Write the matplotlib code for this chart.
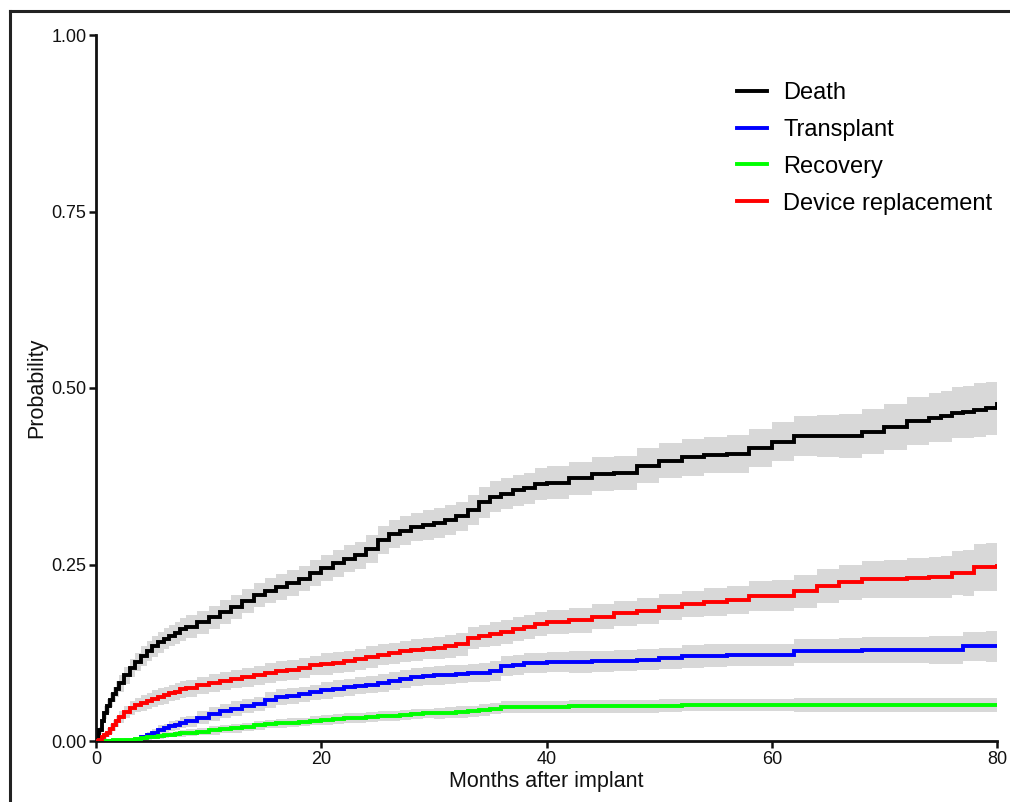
import matplotlib
matplotlib.use("Agg")
import matplotlib.pyplot as plt
from matplotlib.lines import Line2D
import numpy as np

plt.rcParams['font.family'] = ['Liberation Sans', 'DejaVu Sans']

# Months after implant (shared event grid)
months = [0, 0.25, 0.5, 0.75, 1, 1.25, 1.5, 1.75, 2, 2.5, 3, 3.5, 4, 4.5, 5,
          5.5, 6, 6.5, 7, 7.5, 8,
          9, 10, 11, 12, 13, 14, 15, 16, 17, 18, 19, 20,
          21, 22, 23, 24, 25, 26, 27, 28, 29, 30, 31, 32, 33, 34, 35, 36, 37,
          38, 39, 40,
          42, 44, 46, 48, 50, 52, 54, 56, 58, 60, 62, 64, 66, 68, 70, 72, 74,
          75, 76, 77, 78, 79, 80]

death = [0, 0.015, 0.028, 0.040, 0.050, 0.058, 0.066, 0.074, 0.082, 0.093,
         0.103, 0.112, 0.120, 0.127, 0.134, 0.140, 0.145, 0.149, 0.153, 0.158,
         0.162,
         0.168, 0.175, 0.183, 0.190, 0.198, 0.207, 0.213, 0.218, 0.224, 0.230,
         0.238, 0.245, 0.252, 0.258, 0.263, 0.272, 0.285, 0.293, 0.298, 0.303,
         0.306, 0.309, 0.313, 0.318, 0.327, 0.338, 0.346, 0.350, 0.355, 0.358,
         0.364, 0.366,
         0.372, 0.378, 0.380, 0.390, 0.397, 0.402, 0.405, 0.407, 0.415, 0.424,
         0.432, 0.432, 0.432, 0.438, 0.445, 0.453, 0.458,
         0.460, 0.465, 0.466, 0.469, 0.471, 0.478]
death_hw = [0, 0.005, 0.008, 0.009, 0.010, 0.010, 0.011, 0.011, 0.012, 0.012,
            0.013, 0.013, 0.014, 0.014, 0.015, 0.015, 0.015, 0.015, 0.015, 0.016,
            0.016,
            0.016, 0.016, 0.017, 0.017, 0.017, 0.017, 0.018, 0.018, 0.018, 0.018,
            0.019, 0.019, 0.019, 0.019, 0.019, 0.020, 0.020, 0.020, 0.020, 0.020,
            0.021, 0.021, 0.021, 0.021, 0.021, 0.022, 0.022, 0.022, 0.022, 0.022,
            0.023, 0.023,
            0.023, 0.024, 0.024, 0.025, 0.025, 0.026, 0.026, 0.027, 0.027, 0.028,
            0.029, 0.030, 0.031, 0.032, 0.033, 0.034, 0.035,
            0.036, 0.036, 0.037, 0.038, 0.038, 0.039]

transplant = [0, 0, 0, 0, 0, 0, 0, 0, 0, 0,
              0, 0.002, 0.006, 0.009, 0.012, 0.016, 0.018, 0.021, 0.023, 0.026,
              0.028,
              0.033, 0.038, 0.042, 0.046, 0.049, 0.053, 0.058, 0.062, 0.064, 0.066,
              0.069, 0.072, 0.074, 0.076, 0.078, 0.080, 0.082, 0.085, 0.088, 0.091,
              0.092, 0.093, 0.094, 0.095, 0.096, 0.097, 0.099, 0.106, 0.108, 0.110,
              0.111, 0.112,
              0.112, 0.113, 0.114, 0.115, 0.117, 0.120, 0.121, 0.122, 0.122, 0.122,
              0.127, 0.128, 0.128, 0.129, 0.129, 0.129, 0.129,
              0.129, 0.129, 0.134, 0.134, 0.134, 0.134]
transplant_hw = [0, 0, 0, 0, 0, 0, 0, 0, 0, 0,
                 0, 0.002, 0.003, 0.004, 0.005, 0.006, 0.006, 0.007, 0.007, 0.008,
                 0.008,
                 0.009, 0.010, 0.010, 0.010, 0.010, 0.010, 0.011, 0.011, 0.011, 0.011,
                 0.011, 0.012, 0.012, 0.012, 0.012, 0.012, 0.013, 0.013, 0.013, 0.013,
                 0.013, 0.013, 0.013, 0.013, 0.013, 0.013, 0.014, 0.014, 0.014, 0.014,
                 0.014, 0.014,
                 0.015, 0.015, 0.015, 0.015, 0.015, 0.016, 0.016, 0.016, 0.016, 0.016,
                 0.017, 0.017, 0.018, 0.018, 0.019, 0.019, 0.020,
                 0.020, 0.020, 0.021, 0.021, 0.022, 0.022]

recovery = [0, 0, 0, 0, 0, 0, 0.001, 0.001, 0.001, 0.002,
            0.002, 0.003, 0.004, 0.005, 0.006, 0.007, 0.008, 0.009, 0.010, 0.011,
            0.012,
            0.013, 0.015, 0.017, 0.018, 0.020, 0.022, 0.024, 0.025, 0.026, 0.027,
            0.029, 0.030, 0.031, 0.032, 0.033, 0.034, 0.035, 0.036, 0.037, 0.038,
            0.039, 0.039, 0.040, 0.041, 0.042, 0.044, 0.046, 0.048, 0.048, 0.048,
            0.048, 0.048,
            0.049, 0.049, 0.049, 0.049, 0.050, 0.051, 0.051, 0.051, 0.051, 0.051,
            0.051, 0.051, 0.051, 0.051, 0.051, 0.051, 0.051,
            0.051, 0.051, 0.051, 0.051, 0.051, 0.051]
recovery_hw = [0, 0, 0, 0, 0, 0, 0.001, 0.001, 0.001, 0.002,
               0.002, 0.002, 0.003, 0.003, 0.003, 0.004, 0.004, 0.004, 0.004, 0.005,
               0.005,
               0.005, 0.006, 0.006, 0.006, 0.006, 0.006, 0.006, 0.006, 0.006, 0.006,
               0.006, 0.007, 0.007, 0.007, 0.007, 0.007, 0.007, 0.007, 0.007, 0.007,
               0.007, 0.008, 0.008, 0.008, 0.008, 0.008, 0.008, 0.008, 0.008, 0.008,
               0.008, 0.008,
               0.009, 0.009, 0.009, 0.009, 0.009, 0.009, 0.009, 0.009, 0.009, 0.009,
               0.010, 0.010, 0.010, 0.010, 0.010, 0.010, 0.010,
               0.010, 0.010, 0.010, 0.010, 0.010, 0.010]

replacement = [0, 0.002, 0.005, 0.008, 0.012, 0.017, 0.022, 0.028, 0.034, 0.041,
               0.047, 0.051, 0.054, 0.057, 0.060, 0.063, 0.065, 0.068, 0.070, 0.073,
               0.075,
               0.079, 0.082, 0.085, 0.088, 0.090, 0.093, 0.096, 0.099, 0.101, 0.103,
               0.107, 0.109, 0.111, 0.113, 0.116, 0.119, 0.122, 0.124, 0.127, 0.129,
               0.131, 0.132, 0.134, 0.137, 0.146, 0.149, 0.152, 0.154, 0.158, 0.162,
               0.166, 0.169,
               0.171, 0.176, 0.181, 0.184, 0.190, 0.194, 0.197, 0.200, 0.205, 0.206,
               0.212, 0.219, 0.225, 0.229, 0.230, 0.231, 0.232,
               0.232, 0.238, 0.238, 0.246, 0.247, 0.248]
replacement_hw = [0, 0.002, 0.004, 0.005, 0.006, 0.007, 0.008, 0.008, 0.009, 0.009,
                  0.010, 0.010, 0.011, 0.011, 0.012, 0.012, 0.012, 0.012, 0.012, 0.012,
                  0.012,
                  0.012, 0.013, 0.013, 0.013, 0.013, 0.013, 0.014, 0.014, 0.014, 0.014,
                  0.014, 0.015, 0.015, 0.015, 0.015, 0.015, 0.015, 0.015, 0.015, 0.015,
                  0.015, 0.016, 0.016, 0.016, 0.016, 0.016, 0.017, 0.017, 0.017, 0.017,
                  0.017, 0.017,
                  0.018, 0.018, 0.018, 0.018, 0.018, 0.019, 0.020, 0.020, 0.021, 0.022,
                  0.023, 0.024, 0.025, 0.026, 0.027, 0.028, 0.029,
                  0.030, 0.031, 0.032, 0.033, 0.034, 0.035]

labels = ["Death", "Transplant", "Recovery", "Device replacement"]
colors = ["#000000", "#0000ff", "#00ff00", "#ff0000"]
series = [death, transplant, recovery, replacement]
halfwidths = [death_hw, transplant_hw, recovery_hw, replacement_hw]

xticks = [0, 20, 40, 60, 80]
yticks = [0.00, 0.25, 0.50, 0.75, 1.00]

W, H = 1010, 802
fig = plt.figure(figsize=(W / 100, H / 100), dpi=100)
ax = fig.add_axes([96 / W, 61 / H, (997 - 96) / W, (741 - 35) / H])

t = np.array(months)
for vals, hw in zip(series, halfwidths):
    v = np.array(vals)
    h = np.array(hw)
    ax.fill_between(t, v - h, v + h, step='post', color='#d8d8d8',
                    linewidth=0, zorder=1)

handles = []
for vals, c, lab in zip(series, colors, labels):
    ln, = ax.step(t, vals, where='post', color=c, lw=2.8, label=lab,
                  zorder=3, solid_joinstyle='miter')
    handles.append(ln)

ax.set_xlim(0, 80)
ax.set_ylim(0, 1)
ax.set_xticks(xticks)
ax.set_xticklabels([str(x) for x in xticks])
ax.set_yticks(yticks)
ax.set_yticklabels([f"{y:.2f}" for y in yticks])
for s in ['top', 'right']:
    ax.spines[s].set_visible(False)
for s in ['left', 'bottom']:
    ax.spines[s].set_linewidth(2.0)
    ax.spines[s].set_color('#111111')
ax.tick_params(direction='out', length=5, width=1.8, labelsize=13,
               color='#111111', labelcolor='#111111')
ax.tick_params(axis='y', pad=2)
ax.tick_params(axis='x', pad=2.5)
ax.set_xlabel("Months after implant", fontsize=15.5, labelpad=2, color='#111111')
ax.set_ylabel("Probability", fontsize=15.5, labelpad=3, color='#111111')

leg = fig.legend(handles=handles, labels=labels, loc='upper left',
                 bbox_to_anchor=(737 / W, 1 - 82 / H), frameon=False,
                 fontsize=17, handlelength=1.27, handletextpad=0.68,
                 labelspacing=0.63, borderpad=0, borderaxespad=0)

# outer frame (left and top edges visible)
fig.add_artist(Line2D([9.5 / W, 9.5 / W], [0, 1 - 11 / H], color='#222222',
                      lw=2.2, transform=fig.transFigure))
fig.add_artist(Line2D([9.5 / W, 1.0], [1 - 11 / H, 1 - 11 / H], color='#222222',
                      lw=2.2, transform=fig.transFigure, solid_capstyle='projecting'))

fig.savefig("out.png", dpi=100)
